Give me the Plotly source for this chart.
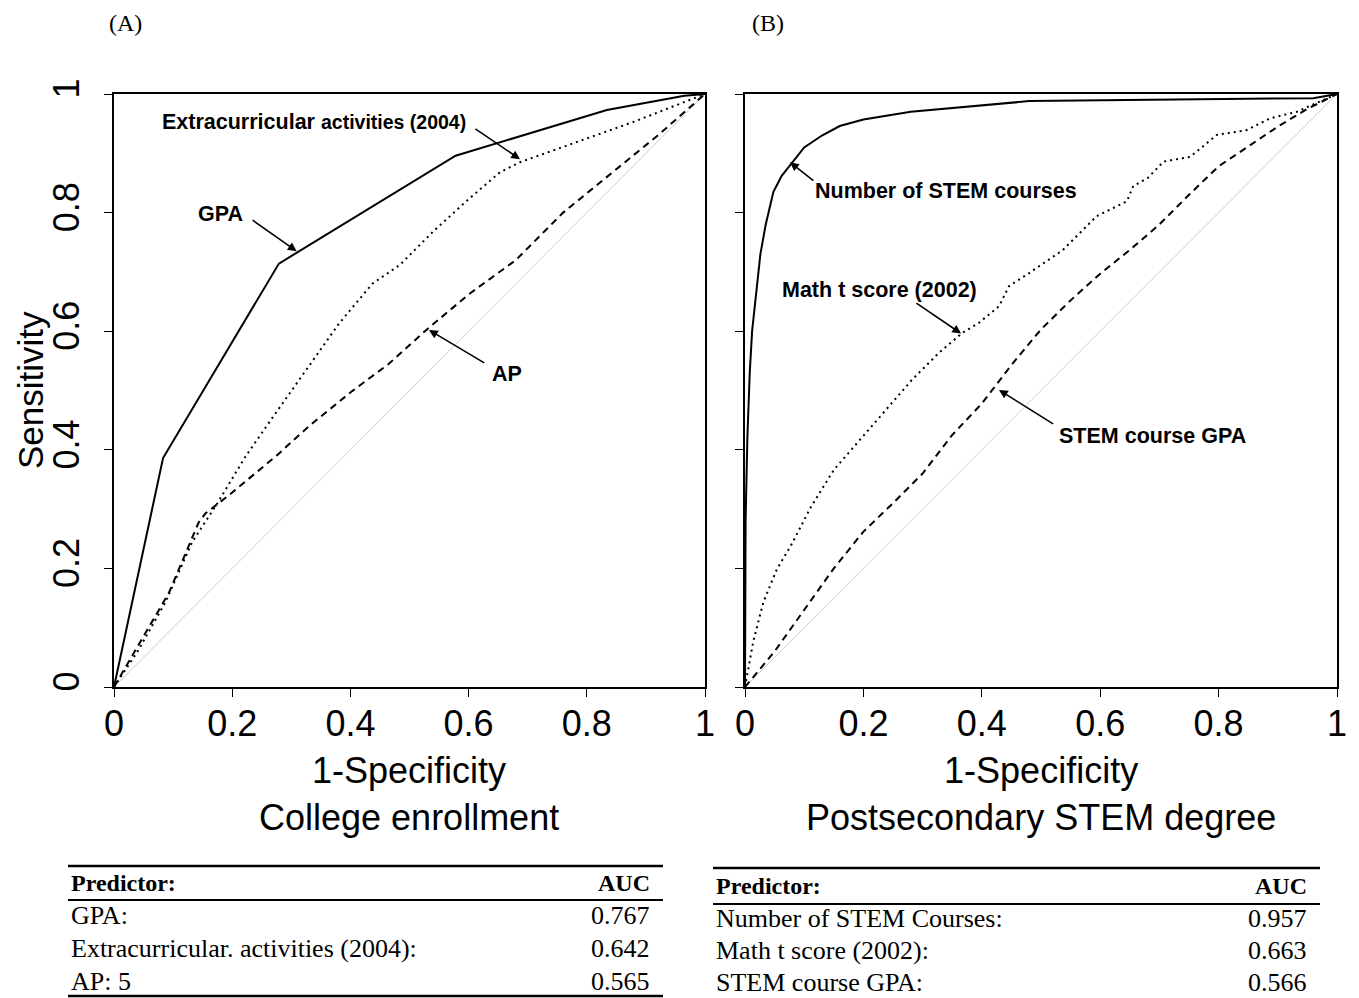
import plotly.graph_objects as go

W, H = 1359, 998
OFF = 8  # page body margin compensation

# ---------------- Panel A: College enrollment ----------------
gpa_x = [0, 0.083, 0.279, 0.578, 0.834, 0.965, 1]
gpa_y = [0, 0.386, 0.714, 0.896, 0.973, 0.997, 1]

extra_x = [0, 0.04, 0.087, 0.132, 0.175, 0.222, 0.268, 0.324, 0.38, 0.437, 0.484, 0.54, 0.597, 0.653, 0.687, 0.879, 1]
extra_y = [0, 0.06, 0.143, 0.244, 0.31, 0.388, 0.454, 0.532, 0.612, 0.68, 0.712, 0.768, 0.82, 0.868, 0.885, 0.953, 1]

ap_x = [0, 0.05, 0.093, 0.143, 0.155, 0.194, 0.276, 0.33, 0.403, 0.465, 0.526, 0.6, 0.68, 0.76, 0.84, 0.92, 1]
ap_y = [0, 0.085, 0.159, 0.277, 0.293, 0.323, 0.391, 0.44, 0.499, 0.545, 0.600, 0.662, 0.72, 0.8, 0.865, 0.93, 1]

# ---------------- Panel B: Postsecondary STEM degree ----------------
nstem_x = [0, 0.001, 0.004, 0.008, 0.012, 0.018, 0.026, 0.035, 0.048, 0.062, 0.08, 0.1, 0.13, 0.16, 0.2, 0.28, 0.48, 0.96, 1]
nstem_y = [0, 0.28, 0.42, 0.53, 0.6, 0.66, 0.73, 0.78, 0.835, 0.862, 0.885, 0.91, 0.93, 0.946, 0.957, 0.97, 0.988, 0.993, 1]

math_x = [0, 0.003, 0.014, 0.031, 0.054, 0.079, 0.111, 0.150, 0.184, 0.225, 0.282, 0.327, 0.367, 0.395, 0.429,
          0.446, 0.48, 0.537, 0.594, 0.645, 0.656, 0.68, 0.707, 0.752, 0.797, 0.847, 0.887, 0.932, 1]
math_y = [0, 0.018, 0.077, 0.143, 0.199, 0.241, 0.303, 0.366, 0.405, 0.451, 0.518, 0.563, 0.597, 0.614, 0.642,
          0.676, 0.698, 0.737, 0.794, 0.819, 0.845, 0.858, 0.886, 0.894, 0.931, 0.939, 0.959, 0.970, 1]

sgpa_x = [0, 0.05, 0.1, 0.15, 0.2, 0.25, 0.3, 0.35, 0.4, 0.45, 0.5, 0.55, 0.6, 0.65, 0.7, 0.75, 0.8, 0.85, 0.9, 0.95, 1]
sgpa_y = [0, 0.06, 0.13, 0.2, 0.262, 0.31, 0.36, 0.425, 0.478, 0.543, 0.603, 0.652, 0.697, 0.737, 0.78, 0.83,
          0.878, 0.912, 0.945, 0.975, 1]

diag = [0, 1]

tick_vals = [0, 0.2, 0.4, 0.6, 0.8, 1]
tick_text = ["0", "0.2", "0.4", "0.6", "0.8", "1"]

panel_labels = ["(A)", "(B)"]
x_titles = ["1-Specificity<br>College enrollment", "1-Specificity<br>Postsecondary STEM degree"]
y_title = "Sensitivity"

# tables
tab_header = ["Predictor:", "AUC"]
tabA_pred = ["GPA:", "Extracurricular. activities (2004):", "AP: 5"]
tabA_auc = ["0.767", "0.642", "0.565"]
tabB_pred = ["Number of STEM Courses:", "Math t score (2002):", "STEM course GPA:"]
tabB_auc = ["0.957", "0.663", "0.566"]

SANS = "Liberation Sans, Arial, sans-serif"
SERIF = "Liberation Serif, Times New Roman, serif"

def px(x):
    return (x - OFF) / W

def py(y):
    return 1 - (y - OFF) / H

fig = go.Figure()

def line(xs, ys, dash, color="black", width=2, xa="x", ya="y"):
    fig.add_trace(go.Scatter(x=xs, y=ys, mode="lines", xaxis=xa, yaxis=ya,
                             line=dict(color=color, width=width, dash=dash),
                             showlegend=False, hoverinfo="skip"))

# Panel A
line(diag, diag, "solid", color="#cfcfcf", width=1)
line(ap_x, ap_y, "7px,5px")
line(extra_x, extra_y, "2px,4px")
line(gpa_x, gpa_y, "solid")
# Panel B
line(diag, diag, "solid", color="#cfcfcf", width=1, xa="x2", ya="y2")
line(sgpa_x, sgpa_y, "7px,5px", xa="x2", ya="y2")
line(math_x, math_y, "2px,4px", xa="x2", ya="y2")
line(nstem_x, nstem_y, "solid", xa="x2", ya="y2")

axis_common = dict(range=[0, 1], showgrid=False, zeroline=False, showline=True, mirror=True,
                   linecolor="black", linewidth=2, ticks="outside", ticklen=8, tickwidth=1,
                   tickcolor="black", tickvals=tick_vals, ticktext=tick_text, automargin=False,
                   tickfont=dict(family=SANS, size=36, color="black"), fixedrange=True)

yA0, yA1 = py(687), py(94)
fig.update_layout(
    width=W, height=H, margin=dict(l=0, r=0, t=0, b=0, autoexpand=False),
    paper_bgcolor="white", plot_bgcolor="white",
    xaxis=dict(domain=[px(114), px(705)], anchor="y", ticklabelstandoff=-4, **axis_common),
    yaxis=dict(domain=[yA0, yA1], anchor="x", tickangle=-90, ticklabelstandoff=11, **axis_common),
    xaxis2=dict(domain=[px(745), px(1337)], anchor="y2", ticklabelstandoff=-4, **axis_common),
    yaxis2=dict(domain=[yA0, yA1], anchor="x2", showticklabels=False, **axis_common),
)

ann = []

def ptext(x, y, text, font, xanchor="center", yanchor="middle", **kw):
    ann.append(dict(x=px(x), y=py(y), xref="paper", yref="paper", text=text, showarrow=False,
                    xanchor=xanchor, yanchor=yanchor, font=font, **kw))

# panel labels
ptext(125, 23, panel_labels[0], dict(family=SERIF, size=24, color="black"))
ptext(768, 23, panel_labels[1], dict(family=SERIF, size=24, color="black"))
# axis titles
for cx, t in zip([409, 1041], x_titles):
    ptext(cx, 748, t, dict(family=SANS, size=36, color="black"), yanchor="top")
ptext(30, 390, y_title, dict(family=SANS, size=35, color="black"), textangle=-90)

bold = dict(family=SANS, size=21.5, color="black")

def dtext(x, y, text, xa, ya, xanchor="center"):
    ann.append(dict(x=x, y=y, xref=xa, yref=ya, showarrow=False, font=bold, text=text,
                    xanchor=xanchor, yanchor="middle"))

# Panel A labels
dtext(0.339, 0.953, "<b>Extracurricular <span style='font-size:19.5px'>activities (2004)</span></b>", "x", "y")
dtext(0.181, 0.798, "<b>GPA</b>", "x", "y")
dtext(0.665, 0.528, "<b>AP</b>", "x", "y")
# Panel B labels
dtext(0.1154, 0.837, "<b>Number of STEM courses</b>", "x2", "y2", xanchor="left")
dtext(0.228, 0.67, "<b>Math t score (2002)</b>", "x2", "y2")
dtext(0.6875, 0.424, "<b>STEM course GPA</b>", "x2", "y2")

# arrows: (tip x, tip y, tail x, tail y, axes)
arrows = [
    (0.687, 0.890, 0.609, 0.943, "x", "y"),
    (0.309, 0.735, 0.232, 0.789, "x", "y"),
    (0.533, 0.602, 0.629, 0.545, "x", "y"),
    (0.076, 0.885, 0.118, 0.852, "x2", "y2"),
    (0.365, 0.596, 0.287, 0.649, "x2", "y2"),
    (0.429, 0.501, 0.523, 0.442, "x2", "y2"),
]
for tx, ty, sx, sy, xa, ya in arrows:
    ann.append(dict(x=tx, y=ty, ax=sx, ay=sy, xref=xa, yref=ya, axref=xa, ayref=ya, text="",
                    showarrow=True, arrowhead=2, arrowsize=1.1, arrowwidth=1.6, arrowcolor="black"))

# tables
shapes = []
def hline(x0, x1, y, w):
    shapes.append(dict(type="line", xref="paper", yref="paper", x0=px(x0), x1=px(x1), y0=py(y), y1=py(y),
                       line=dict(color="black", width=w)))

row_font = dict(family=SERIF, size=26, color="black")
head_font = dict(family=SERIF, size=24, color="black")

def table(xl, xr, y_top, y_head, y_hline, rows_y, preds, aucs, bottom=None):
    hline(xl, xr, y_top, 2.5)
    hline(xl, xr, y_hline, 2)
    if bottom is not None:
        hline(xl, xr, bottom, 2.5)
    ptext(xl + 1, y_head, "<b>" + tab_header[0] + "</b>", head_font, xanchor="left")
    ptext(xr - 11, y_head, "<b>" + tab_header[1] + "</b>", head_font, xanchor="right")
    for yy, p, a in zip(rows_y, preds, aucs):
        ptext(xl + 1, yy, p, row_font, xanchor="left")
        ptext(xr - 11, yy, a, row_font, xanchor="right")

table(68, 663, 866, 883, 900, [915, 948, 981], tabA_pred, tabA_auc, bottom=996)
table(713, 1320, 868, 886, 904, [918, 950, 982], tabB_pred, tabB_auc)

fig.update_layout(annotations=ann, shapes=shapes)
fig.write_html("out.html")
